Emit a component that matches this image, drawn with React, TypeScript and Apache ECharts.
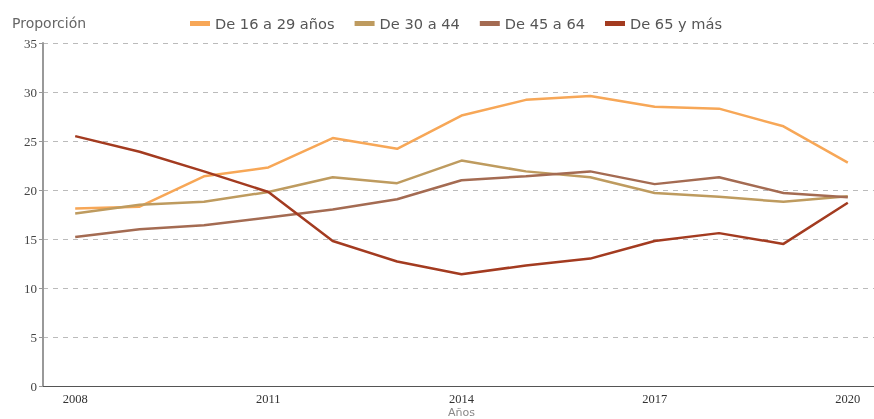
import React, { useEffect, useRef } from "react";
import * as echarts from "echarts";

const years = ["2008", "2009", "2010", "2011", "2012", "2013", "2014", "2015", "2016", "2017", "2018", "2019", "2020"];
const seriesNames = ["De 16 a 29 años", "De 30 a 44", "De 45 a 64", "De 65 y más"];
const age16to29 = [18.1, 18.3, 21.4, 22.3, 25.3, 24.2, 27.6, 29.2, 29.6, 28.5, 28.3, 26.5, 22.8];
const age30to44 = [17.6, 18.5, 18.8, 19.8, 21.3, 20.7, 23.0, 21.9, 21.3, 19.7, 19.3, 18.8, 19.35];
const age45to64 = [15.2, 16.0, 16.4, 17.2, 18.0, 19.05, 21.0, 21.4, 21.9, 20.6, 21.3, 19.7, 19.25];
const age65plus = [25.5, 23.9, 21.9, 19.8, 14.8, 12.7, 11.4, 12.3, 13.0, 14.8, 15.6, 14.5, 18.7];
const colors = ["#F7A757", "#BE9B5F", "#A46B52", "#A33B20"];

export default function App() {
  const ref = useRef<HTMLDivElement>(null);
  useEffect(() => {
    if (!ref.current) return;
    const chart = echarts.init(ref.current, undefined, { renderer: "svg" });
    const data = [age16to29, age30to44, age45to64, age65plus];
    chart.setOption({
      animation: false,
      color: colors,
      title: {
        text: "Proporción",
        left: 7,
        top: 11,
        textStyle: { fontFamily: "DejaVu Sans", fontSize: 14, fontWeight: "normal", color: "#666" },
      },
      legend: {
        data: seriesNames,
        top: 11,
        left: 185,
        icon: "rect",
        itemWidth: 20,
        itemHeight: 5,
        itemGap: 20,
        textStyle: { fontFamily: "DejaVu Sans", fontSize: 14.6, color: "#555" },
      },
      grid: { left: 43, right: -6, top: 43, bottom: 33, containLabel: false, outerBoundsMode: "none" },
      xAxis: {
        type: "category",
        data: years,
        boundaryGap: true,
        name: "Años",
        nameLocation: "middle",
        nameGap: 21,
        nameMoveOverlap: false,
        nameTextStyle: { fontFamily: "DejaVu Sans", fontSize: 11, color: "#888" },
        axisLine: { lineStyle: { color: "#555", width: 1 } },
        axisTick: { show: false },
        axisLabel: { interval: 2, fontFamily: "Liberation Serif", fontSize: 12.5, color: "#333", margin: 6 },
      },
      yAxis: {
        type: "value",
        min: 0,
        max: 35,
        interval: 5,
        axisLine: { show: true, lineStyle: { color: "#999", width: 2 } },
        axisTick: { show: true, length: 4, lineStyle: { color: "#999" } },
        axisLabel: { fontFamily: "Liberation Serif", fontSize: 13, color: "#444", margin: 6 },
        splitLine: { show: true, lineStyle: { color: "#bbb", type: [5, 5], width: 1 } },
      },
      series: seriesNames.map((name, i) => ({
        name,
        type: "line",
        data: data[i],
        showSymbol: false,
        symbol: "none",
        lineStyle: { width: 2.5, color: colors[i] },
        itemStyle: { color: colors[i] },
      })),
    });
    return () => chart.dispose();
  }, []);
  return <div ref={ref} style={{ position: "fixed", left: 0, top: 0, width: 874, height: 419 }} />;
}
